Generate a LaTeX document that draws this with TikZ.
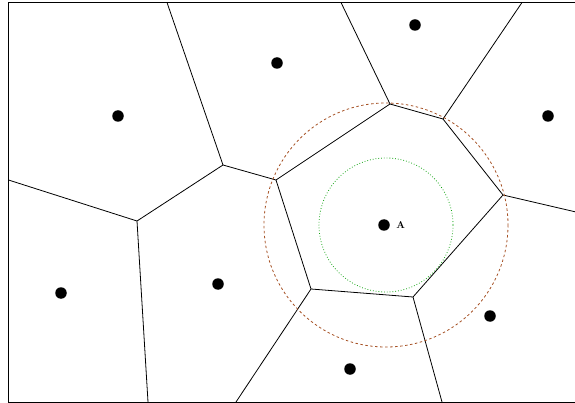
\documentclass[tikz,border=0pt]{standalone}
\usepackage{tikz}
\usetikzlibrary{positioning}
\definecolor{rimbrown}{RGB}{165,80,35}
\definecolor{rimgreen}{RGB}{20,165,20}

\begin{document}
\begin{tikzpicture}[x=1pt,y=-1pt,
  site/.style={circle,fill=black,inner sep=0pt,minimum size=11.5pt},
  edge/.style={draw,line width=0.8pt},
  outer/.style={draw=rimbrown,dashed,line width=0.8pt,dash pattern=on 2.5pt off 2.5pt},
  inner/.style={draw=rimgreen,dotted,line width=0.8pt}
]
\useasboundingbox (0,0) rectangle (575,403);
\draw[line width=0.8pt] (580,2.5) -- (8.5,2.5) -- (8.5,402) -- (580,402);

% sites
\node[site] (s1) at (118,116) {};
\node[site] (s2) at (277,63) {};
\node[site] (s3) at (415,25) {};
\node[site] (s4) at (548,116) {};
\node[site] (s5) at (61,293) {};
\node[site] (s6) at (218,284) {};
\node[site] (sa) at (384,225) {};
\node[site] (s7) at (490,316) {};
\node[site] (s8) at (350,369) {};
\node[right=3pt of sa,font=\bfseries] (la) {A};

% cell vertices
\coordinate (v1) at (223,165);
\coordinate (v2) at (276,180);
\coordinate (v3) at (137,221);
\coordinate (v4) at (390,104);
\coordinate (v5) at (443,119);
\coordinate (v6) at (503,195);
\coordinate (v7) at (413,297);
\coordinate (v8) at (311,289);
% ends on the frame
\coordinate (t1) at (167,2.5);
\coordinate (t2) at (341,2.5);
\coordinate (t3) at (522,2.5);
\coordinate (l1) at (8.5,180);
\coordinate (r1) at (576,212);
\coordinate (b1) at (148,402);
\coordinate (b2) at (236,402);
\coordinate (b3) at (442,402);

\draw[edge] (t1) -- (v1) -- (v2) -- (v4) -- (t2);
\draw[edge] (l1) -- (v3) -- (v1);
\draw[edge] (v3) -- (b1);
\draw[edge] (v4) -- (v5) -- (t3);
\draw[edge] (v5) -- (v6) -- (r1);
\draw[edge] (v6) -- (v7) -- (v8) -- (v2);
\draw[edge] (v8) -- (b2);
\draw[edge] (v7) -- (b3);

\draw[outer] (386,225) circle (122);
\draw[inner] (386,225) circle (67);
\end{tikzpicture}
\end{document}
